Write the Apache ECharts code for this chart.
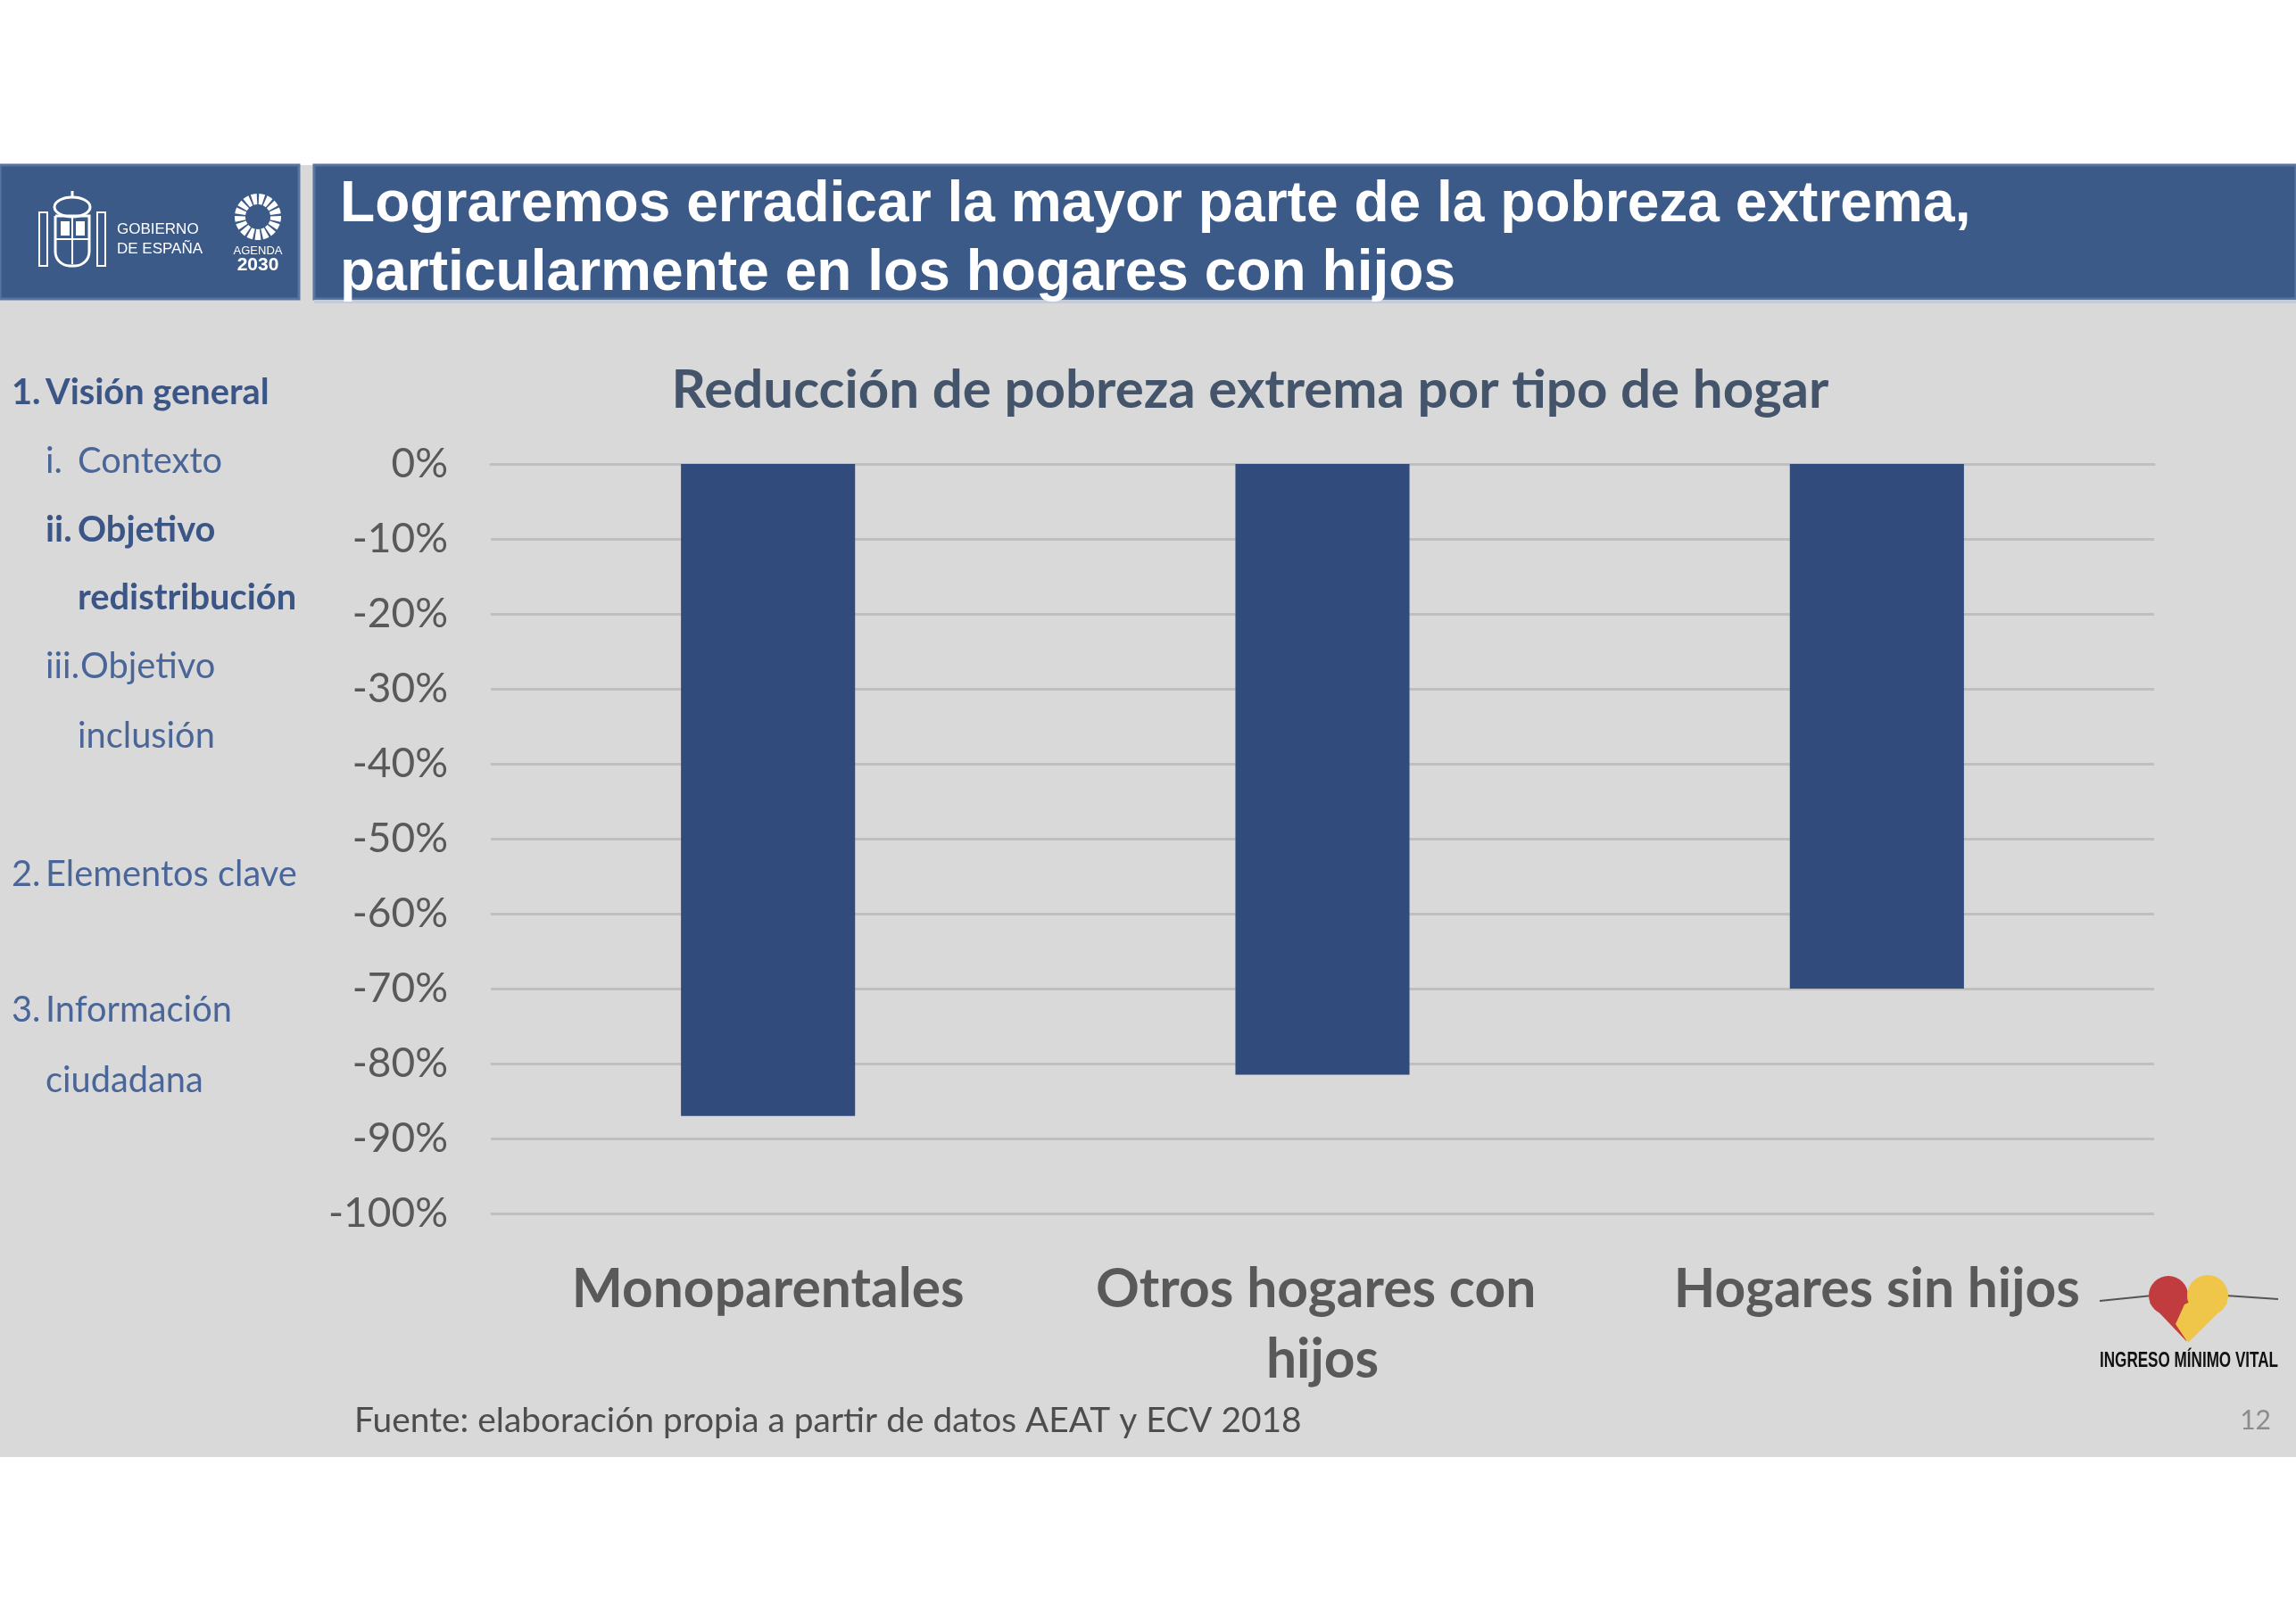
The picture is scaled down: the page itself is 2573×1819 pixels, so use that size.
<!DOCTYPE html>
<html><head><meta charset="utf-8">
<script src="https://cdn.jsdelivr.net/npm/echarts@6/dist/echarts.min.js"></script>
<style>html,body{margin:0;padding:0;background:#fff}#c{width:2573px;height:1819px}</style>
</head><body><div id="c"></div>
<script>
// ---- data ----
const categories = ['Monoparentales', 'Otros hogares con hijos', 'Hogares sin hijos'];
const reduction = [-0.87, -0.815, -0.70];
const chartTitle = 'Reducción de pobreza extrema por tipo de hogar';
const headerLines = ['Lograremos erradicar la mayor parte de la pobreza extrema,', 'particularmente en los hogares con hijos'];
const sourceNote = 'Fuente: elaboración propia a partir de datos AEAT y ECV 2018';
const pageNumber = '12';
const navNumbers = ['1.', 'i.', 'ii.', '', 'iii.', '', '2.', '3.', ''];
const navTexts = ['Visión general', 'Contexto', 'Objetivo', 'redistribución', 'Objetivo', 'inclusión', 'Elementos clave', 'Información', 'ciudadana'];
const navBold = [true, false, true, true, false, false, false, false, false];

// ---- helpers ----
const cv = document.createElement('canvas').getContext('2d');
function fit(text, weight, family, target) {
  cv.font = weight + ' 100px ' + family;
  return 100 * target / cv.measureText(text).width;
}
const SANS = 'Lato';
const navSize = fit('Elementos clave', 'normal', SANS, 282);
const headSize = fit(headerLines[0], 'bold', 'Liberation Sans', 1828);
const titleSize = fit(chartTitle, 'bold', SANS, 1297);
const xLabSize = fit('Monoparentales', 'bold', SANS, 440);
const yLabSize = fit('-100%', 'normal', SANS, 134);
const noteSize = fit(sourceNote, 'normal', SANS, 1062);
const imvScale = fit('INGRESO MÍNIMO VITAL', 'bold', '"Liberation Sans"', 200) / 24;

const navY = [440, 517, 594, 670, 747, 825, 980, 1132, 1211];
const navNumX = [13, 51, 51, 0, 51, 0, 13, 13, 0];
const navTxtX = [51, 87, 87, 87, 90, 87, 51, 51, 51];

const g = [];
// slide background
g.push({type:'rect', shape:{x:0,y:185,width:2573,height:1448}, style:{fill:'#d9d9d9'}, z:0});
// header boxes
g.push({type:'rect', shape:{x:0,y:185,width:335,height:150}, style:{fill:'#3c5a88', stroke:'#5874a0', lineWidth:3}, z:1});
g.push({type:'rect', shape:{x:352,y:185,width:2221,height:150}, style:{fill:'#3c5a88', stroke:'#5874a0', lineWidth:3}, z:1});
g.push({type:'rect', shape:{x:352,y:336,width:2221,height:4}, style:{fill:'#c3ccdb'}, z:1});
headerLines.forEach((t,i)=>{
  g.push({type:'text', x:381, y:[230,307][i], style:{text:t, fill:'#ffffff', font:'bold '+headSize.toFixed(1)+'px "Liberation Sans", Arial, sans-serif', verticalAlign:'middle', align:'left'}, z:3});
});
// Gobierno de España logo (simplified)
const W = '#ffffff';
g.push({type:'rect', shape:{x:62,y:242,width:38,height:56,r:[0,0,16,16]}, style:{fill:'none', stroke:W, lineWidth:3}, z:3});
g.push({type:'line', shape:{x1:81,y1:244,x2:81,y2:296}, style:{stroke:W, lineWidth:2}, z:3});
g.push({type:'line', shape:{x1:63,y1:268,x2:99,y2:268}, style:{stroke:W, lineWidth:2}, z:3});
g.push({type:'ellipse', shape:{cx:81,cy:232,rx:20,ry:11}, style:{fill:'none', stroke:W, lineWidth:3}, z:3});
g.push({type:'line', shape:{x1:81,y1:214,x2:81,y2:222}, style:{stroke:W, lineWidth:3}, z:3});
g.push({type:'rect', shape:{x:44,y:238,width:9,height:60}, style:{fill:'none', stroke:W, lineWidth:2}, z:3});
g.push({type:'rect', shape:{x:109,y:238,width:9,height:60}, style:{fill:'none', stroke:W, lineWidth:2}, z:3});
g.push({type:'rect', shape:{x:68,y:248,width:10,height:16}, style:{fill:W}, z:3});
g.push({type:'rect', shape:{x:85,y:248,width:10,height:16}, style:{fill:W}, z:3});
g.push({type:'text', x:131, y:257, style:{text:'GOBIERNO', fill:W, font:'17px "Liberation Sans", sans-serif', verticalAlign:'middle'}, z:3});
g.push({type:'text', x:131, y:279, style:{text:'DE ESPAÑA', fill:W, font:'17px "Liberation Sans", sans-serif', verticalAlign:'middle'}, z:3});
for (let k=0;k<17;k++){
  const a0 = -Math.PI/2 + k*2*Math.PI/17 + 0.05;
  g.push({type:'sector', shape:{cx:289, cy:243, r0:14, r:26, startAngle:a0, endAngle:a0+2*Math.PI/17-0.1}, style:{fill:W}, z:3});
}
g.push({type:'text', x:289, y:281, style:{text:'AGENDA', fill:W, font:'13px "Liberation Sans", sans-serif', align:'center', verticalAlign:'middle'}, z:3});
g.push({type:'text', x:289, y:297, style:{text:'2030', fill:W, font:'bold 21px "Liberation Sans", sans-serif', align:'center', verticalAlign:'middle'}, z:3});

// navigation
navTexts.forEach((t,i)=>{
  const col = navBold[i] ? '#3b5686' : '#4a6699';
  const font = (navBold[i]?'bold ':'normal ') + navSize.toFixed(1)+'px '+SANS;
  if (navNumbers[i]) g.push({type:'text', x:navNumX[i], y:navY[i], style:{text:navNumbers[i], fill:col, font, verticalAlign:'middle'}, z:3});
  g.push({type:'text', x:navTxtX[i], y:navY[i], style:{text:t, fill:col, font, verticalAlign:'middle'}, z:3});
});

// footnote & page number
g.push({type:'text', x:397, y:1592, style:{text:sourceNote, fill:'#4d4d4d', font:noteSize.toFixed(1)+'px '+SANS, verticalAlign:'middle'}, z:3});
g.push({type:'text', x:2545, y:1592, style:{text:pageNumber, fill:'#8c8c8c', font:'30px '+SANS, align:'right', verticalAlign:'middle'}, z:3});

// Ingreso Mínimo Vital logo (simplified)
g.push({type:'line', shape:{x1:2353,y1:1458,x2:2412,y2:1452}, style:{stroke:'#555', lineWidth:2}, z:3});
g.push({type:'line', shape:{x1:2494,y1:1452,x2:2553,y2:1456}, style:{stroke:'#555', lineWidth:2}, z:3});
g.push({type:'circle', shape:{cx:2430, cy:1452, r:22}, style:{fill:'#c13c3e'}, z:3});
g.push({type:'polygon', shape:{points:[[2409,1460],[2450,1503],[2456,1458],[2430,1450]]}, style:{fill:'#c13c3e'}, z:3});
g.push({type:'circle', shape:{cx:2474, cy:1452, r:23}, style:{fill:'#f0c64a'}, z:4});
g.push({type:'polygon', shape:{points:[[2496,1461],[2452,1505],[2438,1484],[2448,1462],[2474,1450]]}, style:{fill:'#f0c64a'}, z:4});
g.push({type:'text', x:2453, y:1525, scaleX: imvScale, style:{text:'INGRESO MÍNIMO VITAL', fill:'#111', font:'bold 24px "Liberation Sans", sans-serif', align:'center', verticalAlign:'middle'}, z:3});

const chart = echarts.init(document.getElementById('c'), null, {renderer:'canvas'});
chart.setOption({
  backgroundColor: '#ffffff',
  animation: false,
  graphic: g,
  title: {
    text: chartTitle, left: 1396, top: 433, textAlign: 'center', textVerticalAlign: 'middle',
    textStyle: {color:'#44546a', fontFamily:SANS, fontWeight:'bold', fontSize: titleSize}
  },
  grid: {left: 550, right: 159, top: 520, bottom: 459, containLabel: false},
  xAxis: {
    type: 'category', data: categories, position: 'bottom',
    axisLine: {show: true, lineStyle: {color: '#bfbfbf', width: 3}},
    axisTick: {show: false},
    axisLabel: {
      color: '#595959', fontFamily: SANS, fontWeight: 'bold', fontSize: xLabSize,
      lineHeight: 79, margin: 46, width: 540, overflow: 'break', interval: 0
    }
  },
  yAxis: {
    type: 'value', min: -1, max: 0, interval: 0.1,
    axisLine: {show: false}, axisTick: {show: false},
    splitLine: {lineStyle: {color: '#bfbfbf', width: 3}},
    axisLabel: {color: '#595959', fontFamily: SANS, fontSize: yLabSize, margin: 48,
      formatter: v => Math.round(v * 100) + '%'}
  },
  series: [{
    type: 'bar', data: reduction, barCategoryGap: '68.6%',
    itemStyle: {color: '#314b7c'}
  }]
});
</script></body></html>
